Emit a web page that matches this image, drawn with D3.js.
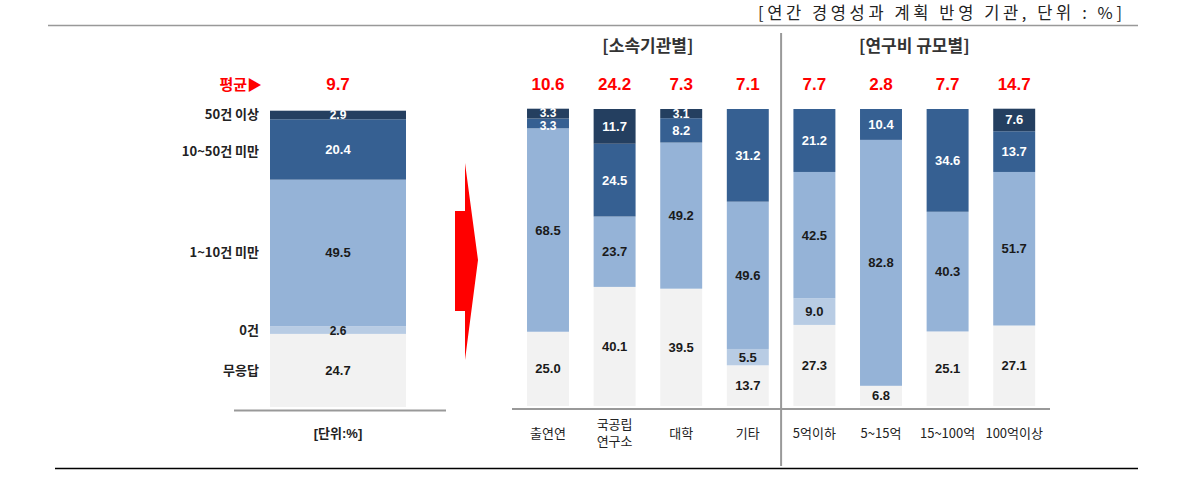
<!DOCTYPE html>
<html><head><meta charset="utf-8">
<script src="https://cdn.jsdelivr.net/npm/d3@7"></script>
<style>
html,body{margin:0;padding:0;background:#fff;}
text{font-family:"Liberation Sans","Noto Sans CJK KR",sans-serif;}
</style></head>
<body><svg id="c" width="1199" height="497"></svg>
<script>
// ---- data ----
const seriesKeys = ["무응답","0건","1~10건 미만","10~50건 미만","50건 이상"];
const seriesColors = ["#f2f2f2","#b8cce4","#95b3d7","#366092","#243f60"];
const seriesTextColors = ["#1a1a1a","#1a1a1a","#1a1a1a","#ffffff","#ffffff"];

const categories = ["출연연","국공립\n연구소","대학","기타","5억이하","5~15억","15~100억","100억이상"];
const noResponse = [25.0,40.1,39.5,13.7,27.3,6.8,25.1,27.1];
const zeroCase   = [0,0,0,5.5,9.0,0,0,0];
const oneTo10    = [68.5,23.7,49.2,49.6,42.5,82.8,40.3,51.7];
const tenTo50    = [3.3,24.5,8.2,31.2,21.2,10.4,34.6,13.7];
const over50     = [3.3,11.7,3.1,0,0,0,0,7.6];
const averages   = [10.6,24.2,7.3,7.1,7.7,2.8,7.7,14.7];

const overallLabel = "[단위:%]";
const overallValues = [24.7,2.6,49.5,20.4,2.9];
const overallAverage = 9.7;

const groupTitles = ["[소속기관별]","[연구비 규모별]"];
const groupSizes = [4,4];
const titleText = "[연간 경영성과 계획 반영 기관, 단위 : %]";
const avgLabel = "평균▶";

// ---- build ----
const svg = d3.select("#c");
const rows = categories.map((c,i)=>({cat:c, "무응답":noResponse[i], "0건":zeroCase[i], "1~10건 미만":oneTo10[i], "10~50건 미만":tenTo50[i], "50건 이상":over50[i]}));
const overallRow = {cat:overallLabel};
seriesKeys.forEach((k,i)=>overallRow[k]=overallValues[i]);

const stack = d3.stack().keys(seriesKeys);
const y = d3.scaleLinear().domain([0,100]).range([406,109]);
const yL = d3.scaleLinear().domain([0,100]).range([407,111]);
const x = d3.scaleBand().domain(categories).range([514.7,1047.5]).paddingInner(0.37).paddingOuter(0.185);
const xL = d3.scaleBand().domain([overallLabel]).range([270,406]);

// title & lines
svg.append("text").attr("x",1122).attr("y",19).attr("text-anchor","end")
  .attr("font-size",16.5).attr("fill","#222").attr("textLength",364).attr("lengthAdjust","spacing")
  .style("font-family","'Noto Sans CJK KR',sans-serif").text(titleText);
svg.append("line").attr("x1",48).attr("x2",1138).attr("y1",25.5).attr("y2",25.5).attr("stroke","#999").attr("stroke-width",1.5);
svg.append("line").attr("x1",55).attr("x2",1138).attr("y1",468.5).attr("y2",468.5).attr("stroke","#000").attr("stroke-width",1.5);

// divider
const divX = (x(categories[3])+x.bandwidth()+x(categories[4]))/2;
svg.append("line").attr("x1",divX).attr("x2",divX).attr("y1",33).attr("y2",466).attr("stroke","#999").attr("stroke-width",2);

// group titles
let start=0;
groupTitles.forEach((t,gi)=>{
  const first = categories[start], last = categories[start+groupSizes[gi]-1];
  const cx = (x(first)+x(last)+x.bandwidth())/2;
  svg.append("text").attr("x",cx).attr("y",52).attr("text-anchor","middle")
    .attr("font-size",17).attr("font-weight","bold").attr("fill","#333")
    .style("font-family","'Noto Sans CJK KR',sans-serif").text(t);
  start += groupSizes[gi];
});

function drawBars(g, data, xs, ys){
  const layers = stack(data);
  layers.forEach((layer,li)=>{
    const lg = g.append("g");
    lg.selectAll("rect").data(layer).join("rect")
      .attr("x",d=>xs(d.data.cat)).attr("width",xs.bandwidth())
      .attr("y",d=>ys(d[1])).attr("height",d=>Math.max(0,ys(d[0])-ys(d[1])))
      .attr("fill",seriesColors[li]);
  });
  layers.forEach((layer,li)=>{
    const lg = g.append("g");
    lg.selectAll("text").data(layer.filter(d=>d[1]-d[0]>0)).join("text")
      .attr("x",d=>xs(d.data.cat)+xs.bandwidth()/2)
      .attr("y",(d,i)=>{
        let cy = (ys(d[0])+ys(d[1]))/2;
        const h = ys(d[0])-ys(d[1]);
        if(h<11){
          // nudge tiny neighbouring labels apart
          const below = li>0 ? layers[li-1].find(e=>e.data.cat===d.data.cat) : null;
          const above = li<layers.length-1 ? layers[li+1].find(e=>e.data.cat===d.data.cat) : null;
          if(below && (below[1]-below[0])>0 && (ys(below[0])-ys(below[1]))<11) cy -= 1.5;
          if(above && (above[1]-above[0])>0 && (ys(above[0])-ys(above[1]))<11) cy += 2.5;
        }
        return cy+4.5;
      })
      .attr("text-anchor","middle").attr("font-size",d=>(ys(d[0])-ys(d[1]))<11?12:13).attr("font-weight","bold")
      .attr("fill",seriesTextColors[li])
      .text(d=>(d[1]-d[0]).toFixed(1));
  });
}

// left overall bar
drawBars(svg.append("g"), [overallRow], xL, yL);
svg.append("line").attr("x1",234).attr("x2",446).attr("y1",410.5).attr("y2",410.5).attr("stroke","#999").attr("stroke-width",2);
svg.append("text").attr("x",xL(overallLabel)+xL.bandwidth()/2).attr("y",438).attr("text-anchor","middle")
  .attr("font-size",13).attr("font-weight","bold").attr("fill","#222").text(overallLabel);
// series labels at left
const ostack = stack([overallRow]);
ostack.forEach((layer,li)=>{
  const d = layer[0];
  let cy = (yL(d[0])+yL(d[1]))/2;
  if(li===3) cy += 2;
  svg.append("text").attr("x",259).attr("y",cy+4.5).attr("text-anchor","end")
    .attr("font-size",13).attr("font-weight","bold").attr("fill","#222")
    .style("font-family","'Noto Sans CJK KR',sans-serif").text(seriesKeys[li]);
});
// average label
svg.append("text").attr("x",262).attr("y",90).attr("text-anchor","end")
  .attr("font-size",15).attr("font-weight","bold").attr("fill","#ff0000")
  .style("font-family","'Noto Sans CJK KR',sans-serif").text(avgLabel);
svg.append("text").attr("x",xL(overallLabel)+xL.bandwidth()/2).attr("y",90).attr("text-anchor","middle")
  .attr("font-size",17).attr("font-weight","bold").attr("fill","#ff0000").text(overallAverage.toFixed(1));

// right bars
drawBars(svg.append("g"), rows, x, y);
svg.append("line").attr("x1",512).attr("x2",1050).attr("y1",409).attr("y2",409).attr("stroke","#999").attr("stroke-width",2);

// averages
svg.append("g").selectAll("text").data(categories).join("text")
  .attr("x",d=>x(d)+x.bandwidth()/2).attr("y",90).attr("text-anchor","middle")
  .attr("font-size",17).attr("font-weight","bold").attr("fill","#ff0000")
  .text((d,i)=>averages[i].toFixed(1));

// x axis labels
const xa = svg.append("g");
categories.forEach(c=>{
  const lines = c.split("\n");
  const t = xa.append("text").attr("x",x(c)+x.bandwidth()/2).attr("text-anchor","middle")
    .attr("font-size",13).attr("fill","#222").style("font-family","'Noto Sans CJK KR',sans-serif");
  const y0 = lines.length===1 ? 438 : 429;
  lines.forEach((l,i)=>t.append("tspan").attr("x",x(c)+x.bandwidth()/2).attr("y",y0+i*17).text(l));
});

// red arrow
const arrowPts = [[455,211],[465,211],[465,163],[478,260],[465,360],[465,311],[455,311]];
svg.append("path").attr("d",d3.line()(arrowPts)+"Z").attr("fill","#ff0000");
</script></body></html>
